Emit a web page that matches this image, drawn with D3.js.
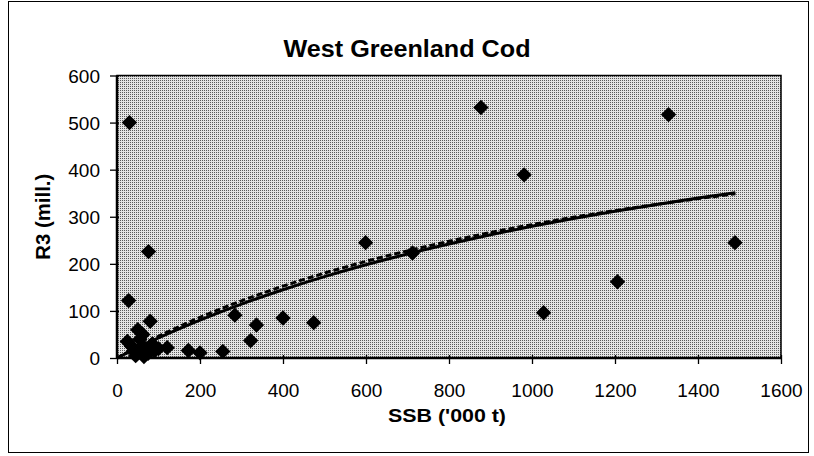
<!DOCTYPE html>
<html><head><meta charset="utf-8">
<script src="https://cdn.jsdelivr.net/npm/d3@7"></script>
<style>body{margin:0;background:#fff}svg{display:block}text{font-family:Arial,"Liberation Sans",sans-serif;fill:#000}</style>
</head><body>
<svg id="c" width="814" height="456"></svg>
<script>
const title = "West Greenland Cod";
const xLabel = "SSB ('000 t)";
const yLabel = "R3 (mill.)";
const xTicks = [0,200,400,600,800,1000,1200,1400,1600];
const yTicks = [0,100,200,300,400,500,600];
// observations
const ssb = [30,877,1329,981,599,712,1489,1206,1028,76,28,80,284,400,474,336,322,121,172,200,255,25,40,45,55,60,62,65,70,75,85,90,100,50,35,58];
const r3  = [500,532,517,389,245,223,245,162,96,226,122,78,91,85,75,70,37,22,16,11,14,35,15,5,40,25,50,3,20,10,30,15,20,60,25,12];
// fitted curves
const fitS = [0,100,200,300,400,500,600,700,800,900,1000,1100,1200,1300,1400,1490];
const fitSolid  = [0,42.6,80.5,114.5,145,172.8,198,221,242,261.7,279.7,296.3,311.8,326,339.7,351];
const fitDashed = [0,46.2,86.3,121.5,152.6,180.3,205.2,227.6,247.9,266.4,283.3,298.8,313,326.2,338.5,348.7];

const svg = d3.select("#c");
const defs = svg.append("defs");
const pat = defs.append("pattern").attr("id","stip").attr("width",2).attr("height",2).attr("patternUnits","userSpaceOnUse");
pat.append("rect").attr("width",2).attr("height",2).attr("fill","#e4e4e4");
pat.append("rect").attr("x",0).attr("y",0).attr("width",1).attr("height",1).attr("fill","#5a5a5a");

// outer frame
svg.append("rect").attr("x",8.5).attr("y",1.5).attr("width",800).attr("height",451)
  .attr("fill","#fff").attr("stroke","#000").attr("stroke-width",1);

const x = d3.scaleLinear().domain([0,1600]).range([117,781]);
const y = d3.scaleLinear().domain([0,600]).range([358,75.5]);

// plot area
svg.append("rect").attr("x",x(0)).attr("y",y(600)).attr("width",x(1600)-x(0)).attr("height",y(0)-y(600))
  .attr("fill","url(#stip)").attr("stroke","#000").attr("stroke-width",1.5);

// axes
const gx = svg.append("g").attr("transform",`translate(0,${y(0)})`)
  .call(d3.axisBottom(x).tickValues(xTicks).tickSize(0).tickPadding(0).tickFormat(d3.format("d")));
gx.select(".domain").remove();
gx.selectAll(".tick line").attr("y1",-3).attr("y2",6).attr("stroke","#000").attr("stroke-width",1.3);
gx.selectAll(".tick text").attr("y",39).attr("dy",0).attr("font-size",19).attr("font-family","Arial, Liberation Sans, sans-serif");

const gy = svg.append("g").attr("transform",`translate(${x(0)},0)`)
  .call(d3.axisLeft(y).tickValues(yTicks).tickSize(0).tickPadding(0).tickFormat(d3.format("d")));
gy.select(".domain").remove();
gy.selectAll(".tick line").attr("x1",-7).attr("x2",2).attr("stroke","#000").attr("stroke-width",1.3);
gy.selectAll(".tick text").attr("x",-17).attr("dy","0.35em").attr("font-size",19).attr("font-family","Arial, Liberation Sans, sans-serif");

// axis lines (thicker)
svg.append("line").attr("x1",x(0)).attr("x2",x(1600)).attr("y1",y(0)).attr("y2",y(0)).attr("stroke","#000").attr("stroke-width",2.5);
svg.append("line").attr("x1",x(0)).attr("x2",x(0)).attr("y1",y(0)).attr("y2",y(600)).attr("stroke","#000").attr("stroke-width",2.5);

// points
const pts = ssb.map((s,i)=>({s, r:r3[i]}));
svg.append("g").selectAll("path").data(pts).join("path")
  .attr("d", d3.symbol().type(d3.symbolSquare).size(118))
  .attr("transform", d=>`translate(${x(d.s)},${y(d.r)}) rotate(45)`)
  .attr("fill","#000");

// fitted lines
const line = d3.line().x(d=>x(d[0])).y(d=>y(d[1])).curve(d3.curveMonotoneX);
svg.append("path").datum(fitS.map((s,i)=>[s,fitSolid[i]])).attr("d",line)
  .attr("fill","none").attr("stroke","#000").attr("stroke-width",3);
svg.append("path").datum(fitS.map((s,i)=>[s,fitDashed[i]])).attr("d",line)
  .attr("fill","none").attr("stroke","#000").attr("stroke-width",3).attr("stroke-dasharray","6,3");

// titles
svg.append("text").attr("x",407).attr("y",57).attr("text-anchor","middle")
  .attr("font-size",23).attr("font-weight","bold")
  .attr("textLength",247).attr("lengthAdjust","spacingAndGlyphs").text(title);
svg.append("text").attr("x",447).attr("y",422).attr("text-anchor","middle")
  .attr("font-size",19).attr("font-weight","bold")
  .attr("textLength",118).attr("lengthAdjust","spacingAndGlyphs").text(xLabel);
svg.append("text").attr("transform",`translate(50,${(y(0)+y(600))/2}) rotate(-90)`).attr("text-anchor","middle")
  .attr("font-size",20).attr("font-weight","bold")
  .attr("textLength",86).attr("lengthAdjust","spacingAndGlyphs").text(yLabel);
</script>
</body></html>
